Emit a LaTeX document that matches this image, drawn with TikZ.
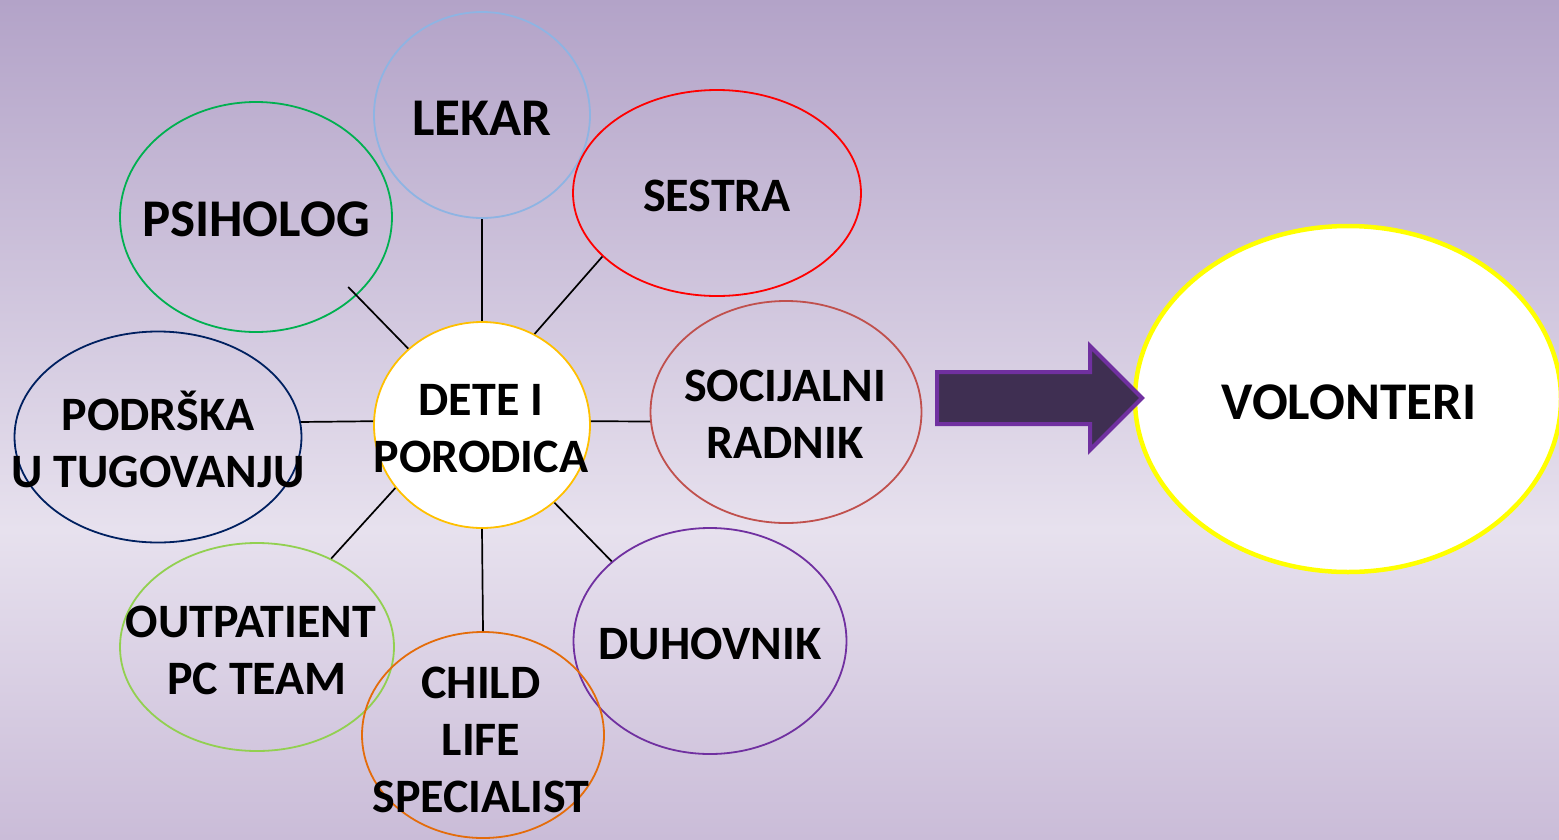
\documentclass[tikz,border=0pt]{standalone}
\usepackage{fontspec}
\setmainfont{Carlito}
\usepackage{xcolor}
\usetikzlibrary{shapes,positioning,calc}

\definecolor{bgTop}{HTML}{B3A3C8}
\definecolor{bgMid}{HTML}{E7E1EE}
\definecolor{bgBot}{HTML}{CABCD8}
\definecolor{arrowFill}{HTML}{3F2F52}
\definecolor{arrowEdge}{HTML}{7030A0}
\definecolor{ringLekar}{HTML}{8EB4E3}
\definecolor{ringSestra}{HTML}{FF0000}
\definecolor{ringPsiholog}{HTML}{00B050}
\definecolor{ringPodrska}{HTML}{002060}
\definecolor{ringSocijalni}{HTML}{C0504D}
\definecolor{ringOutpatient}{HTML}{92D050}
\definecolor{ringChild}{HTML}{E46C0A}
\definecolor{ringDete}{HTML}{FFC000}
\definecolor{ringVolonteri}{HTML}{FFFF00}

\begin{document}
\begin{tikzpicture}[x=1pt,y=-1pt,
    oval/.style n args={3}{ellipse, draw=#1, line width=1.8pt, inner sep=0pt,
        minimum width=#2, minimum height=#3},
    lbl/.style={font=\bfseries\fontsize{48}{57}\selectfont, align=center, inner sep=0pt},
    big/.style={font=\bfseries\fontsize{53}{60}\selectfont, align=center, inner sep=0pt},
    link/.style={draw=black, line width=1.7pt}]
    \useasboundingbox (0,0) rectangle (1559,839);

    % Background
    \shade[top color=bgTop, bottom color=bgMid] (0,0) rectangle (1559,530);
    \shade[top color=bgMid, bottom color=bgBot] (0,529.5) rectangle (1559,839);

    % Ovals
    \node[oval={ringLekar}{216pt}{206pt}] (lekar) at (482,115) {};
    \node[oval={ringSestra}{288pt}{206pt}] (sestra) at (717,193) {};
    \node[oval={ringPsiholog}{272pt}{230pt}] (psiholog) at (256,217) {};
    \node[oval={ringPodrska}{287pt}{211pt}] (podrska) at (158,437) {};
    \node[oval={ringSocijalni}{271pt}{222pt}] (socijalni) at (786,412) {};
    \node[oval={arrowEdge}{273pt}{226pt}] (duhovnik) at (710,641) {};
    \node[oval={ringOutpatient}{274pt}{208pt}] (outpatient) at (257,647) {};
    \node[oval={ringChild}{242pt}{206pt}] (child) at (483,735) {};
    \node[oval={ringDete}{216pt}{206pt}, fill=white] (dete) at (482,425) {};
    \node[oval={ringVolonteri}{426pt}{346pt}, fill=white, line width=4.5pt] (volonteri) at (1348,399) {};

    % Links
    \draw[link] (dete.north) -- (lekar.south);
    \draw[link] (dete.60) -- (sestra.209.5);
    \draw[link, shorten >=-12pt] (dete.134) -- (psiholog.-38);
    \draw[link] (dete.178) -- (podrska.6);
    \draw[link] (dete.2) -- (socijalni.184);
    \draw[link] (dete.-47) -- (duhovnik.141.6);
    \draw[link] (dete.216.8) -- (outpatient.50);
    \draw[link] (dete.south) -- (child.north);

    % Labels
    \node[big] (tLekar) at (482,118) {LEKAR};
    \node[lbl] (tSestra) at (717,196) {SESTRA};
    \node[big] (tPsiholog) at (256,219) {PSIHOLOG};
    \node[lbl] (tPodrska) at (158,439) {PODRŠKA\\U TUGOVANJU};
    \node[lbl] (tDete) at (481,429) {DETE I\\PORODICA};
    \node[lbl] (tSocijalni) at (785,414) {SOCIJALNI\\RADNIK};
    \node[lbl] (tDuhovnik) at (710,644) {DUHOVNIK};
    \node[lbl] (tOutpatient) at (251,622) {OUTPATIENT};
    \node[lbl] (tPcTeam) at (257,679) {PC TEAM};
    \node[lbl] (tChild) at (481,740) {CHILD\\LIFE\\SPECIALIST};
    \node[big] (tVolonteri) at (1349,402) {VOLONTERI};

    % Block arrow
    \draw[fill=arrowFill, draw=arrowEdge, line width=4pt, line join=miter]
        (937,372) -- (1090,372) -- (1090,346) -- (1142,398) -- (1090,450)
        -- (1090,424) -- (937,424) -- cycle;
\end{tikzpicture}
\end{document}
